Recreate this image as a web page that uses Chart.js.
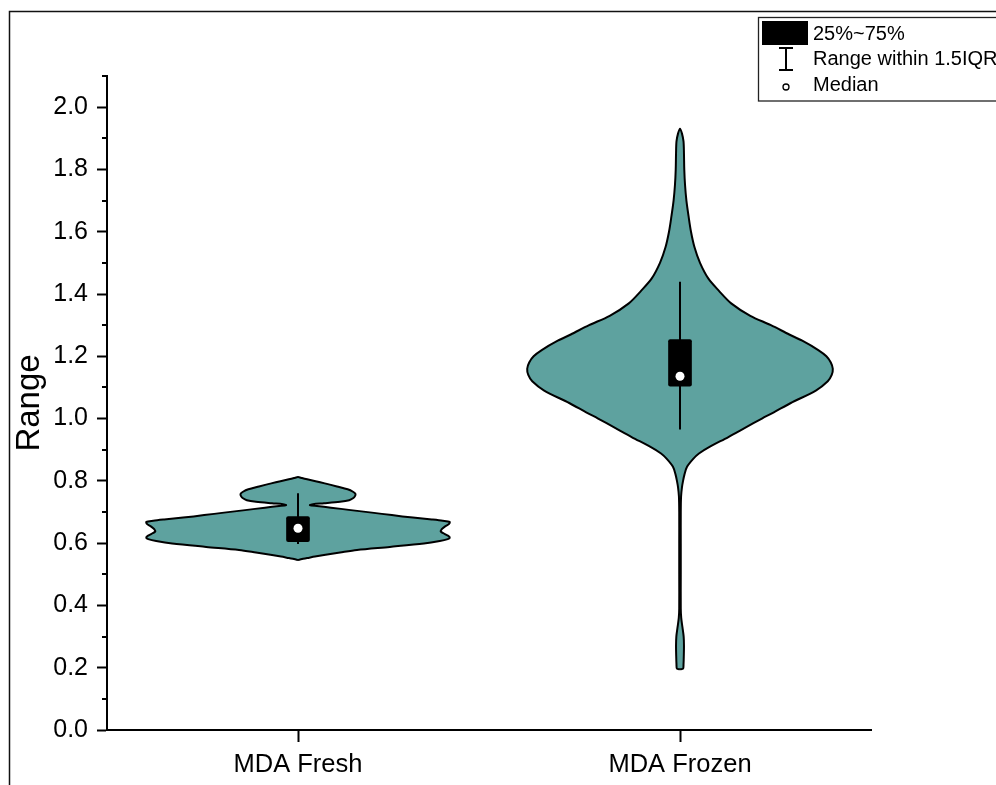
<!DOCTYPE html>
<html>
<head>
<meta charset="utf-8">
<script src="https://cdn.jsdelivr.net/npm/chart.js@4/dist/chart.umd.min.js"></script>
<style>
  html, body { margin: 0; padding: 0; background: #fff; }
  #wrap { width: 996px; height: 785px; position: relative; }
</style>
</head>
<body>
<div id="wrap"><canvas id="chart" width="996" height="785"></canvas></div>
<script>
// ---- data ----
const categories = ['MDA Fresh', 'MDA Frozen'];

// kernel density profile of each group: y levels and relative density (max = 100)
const freshLevels = [0.546, 0.549, 0.552, 0.557, 0.562, 0.570, 0.578, 0.588, 0.599, 0.607,
  0.613, 0.617, 0.622, 0.629, 0.637, 0.645, 0.653, 0.661, 0.668, 0.672,
  0.676, 0.682, 0.690, 0.698, 0.706, 0.714, 0.719, 0.722, 0.725, 0.728,
  0.733, 0.738, 0.744, 0.751, 0.758, 0.765, 0.773, 0.782, 0.792, 0.799,
  0.805, 0.809, 0.812];
const freshDensity = [0, 2.6, 5.9, 11.1, 17.0, 27.5, 38.6, 60.1, 82.4, 92.8,
  98.0, 99.3, 98.7, 96.1, 93.5, 94.1, 96.1, 98.7, 99.3, 94.8,
  87.6, 75.2, 61.4, 48.4, 34.6, 21.6, 12.4, 7.8, 9.8, 17.0,
  27.5, 33.5, 36.0, 37.3, 37.6, 36.0, 32.5, 25.5, 17.5, 11.5,
  6.0, 2.6, 0];

const frozenLevels = [0.195, 0.197, 0.21, 0.24, 0.27, 0.30, 0.33, 0.36, 0.39, 0.50,
  0.60, 0.70, 0.75, 0.78, 0.80, 0.82, 0.845, 0.87, 0.888, 0.91,
  0.94, 0.97, 1.00, 1.02, 1.05, 1.09, 1.12, 1.14, 1.16, 1.18,
  1.20, 1.22, 1.25, 1.27, 1.30, 1.33, 1.37, 1.41, 1.45, 1.50,
  1.55, 1.60, 1.65, 1.70, 1.75, 1.80, 1.85, 1.89, 1.915, 1.931];
const frozenDensity = [0, 2.0, 2.3, 2.5, 2.6, 2.4, 1.6, 0.8, 0.5, 0.5,
  0.5, 0.5, 0.7, 1.3, 2.0, 2.9, 4.6, 8.5, 12.4, 19.6,
  31.4, 42.5, 53.6, 61.4, 72.5, 88.9, 96.7, 99.3, 100, 98.7,
  95.8, 90.5, 80.0, 71.5, 59.5, 46.0, 33.5, 25.5, 18.5, 13.1,
  9.5, 7.2, 5.6, 4.2, 3.3, 2.8, 2.6, 2.3, 1.3, 0];

// box statistics
const q1 = [0.605, 1.104];
const q3 = [0.685, 1.254];
const medians = [0.648, 1.136];
const whiskerLow = [0.597, 0.965];
const whiskerHigh = [0.760, 1.439];

const legendLabels = ['25%~75%', 'Range within 1.5IQR', 'Median'];

// ---- styling ----
const FONT = "'Liberation Sans', Arial, Helvetica, sans-serif";
const VIOLIN_FILL = '#5ea29f';
const VIOLIN_HALF_WIDTH = 0.4;   // x-axis units at density 100

const profiles = [
  { levels: freshLevels, density: freshDensity },
  { levels: frozenLevels, density: frozenDensity }
];

const datasets = [];

// violin outlines: right side going up, left side coming down
profiles.forEach((p, i) => {
  const c = i + 1;
  const right = p.levels.map((v, k) => ({ x: c + p.density[k] / 100 * VIOLIN_HALF_WIDTH, y: v }));
  const left = p.levels.map((v, k) => ({ x: c - p.density[k] / 100 * VIOLIN_HALF_WIDTH, y: v })).reverse();
  datasets.push({
    type: 'scatter',
    label: categories[i],
    data: right.concat(left.slice(1)),
    showLine: true,
    fill: 'shape',
    backgroundColor: VIOLIN_FILL,
    borderColor: '#000',
    borderWidth: 2,
    borderJoinStyle: 'round',
    pointRadius: 0,
    tension: 0.3,
    order: 4
  });
});

// whiskers
categories.forEach((name, i) => {
  datasets.push({
    type: 'scatter',
    label: name + ' whisker',
    data: [{ x: i + 1, y: whiskerLow[i] }, { x: i + 1, y: whiskerHigh[i] }],
    showLine: true,
    fill: false,
    borderColor: '#000',
    borderWidth: 2,
    pointRadius: 0,
    order: 3
  });
});

// interquartile boxes
datasets.push({
  type: 'bar',
  label: 'IQR',
  data: categories.map((_, i) => ({ x: i + 1, y: [q1[i], q3[i]] })),
  backgroundColor: '#000',
  borderWidth: 0,
  borderRadius: 2,
  borderSkipped: false,
  barThickness: 23,
  order: 2
});

// medians
datasets.push({
  type: 'scatter',
  label: 'Median',
  data: categories.map((_, i) => ({ x: i + 1, y: medians[i] })),
  showLine: false,
  pointRadius: 4.5,
  pointBackgroundColor: '#fff',
  pointBorderColor: '#fff',
  pointBorderWidth: 0,
  order: 1
});

// minor y ticks, outer frame and legend box
const decorations = {
  id: 'decorations',
  afterDraw(chart) {
    const ctx = chart.ctx;
    const y = chart.scales.y;
    const area = chart.chartArea;
    ctx.save();

    // minor ticks at odd tenths
    ctx.strokeStyle = '#000';
    ctx.lineWidth = 2;
    ctx.beginPath();
    for (let t = 1; t <= 21; t += 2) {
      const py = Math.round(y.getPixelForValue(t / 10));
      ctx.moveTo(area.left - 5, py);
      ctx.lineTo(area.left, py);
    }
    ctx.stroke();

    // outer frame (top and left edges)
    ctx.strokeStyle = '#111';
    ctx.lineWidth = 1.5;
    ctx.beginPath();
    ctx.moveTo(9.5, 785);
    ctx.lineTo(9.5, 11.5);
    ctx.lineTo(996, 11.5);
    ctx.stroke();

    // legend
    ctx.fillStyle = '#fff';
    ctx.fillRect(758.5, 17.5, 260, 83.5);
    ctx.strokeStyle = '#222';
    ctx.lineWidth = 1.3;
    ctx.strokeRect(758.5, 17.5, 260, 83.5);

    ctx.fillStyle = '#000';
    ctx.fillRect(762, 21, 46, 24);

    ctx.strokeStyle = '#000';
    ctx.lineWidth = 2;
    ctx.beginPath();
    ctx.moveTo(786, 48); ctx.lineTo(786, 70);
    ctx.moveTo(779, 48); ctx.lineTo(793, 48);
    ctx.moveTo(779, 70); ctx.lineTo(793, 70);
    ctx.stroke();

    ctx.beginPath();
    ctx.arc(786, 87, 3, 0, Math.PI * 2);
    ctx.fillStyle = '#fff';
    ctx.fill();
    ctx.lineWidth = 1.3;
    ctx.strokeStyle = '#000';
    ctx.stroke();

    ctx.fillStyle = '#000';
    ctx.font = '20px ' + FONT;
    ctx.textAlign = 'left';
    ctx.textBaseline = 'middle';
    const rowY = [34, 59.5, 85];
    legendLabels.forEach((t, k) => ctx.fillText(t, 813, rowY[k]));

    ctx.restore();
  }
};

new Chart(document.getElementById('chart'), {
  type: 'scatter',
  data: { datasets },
  options: {
    responsive: false,
    devicePixelRatio: 1,
    animation: false,
    events: [],
    layout: { padding: { top: 76, right: 125, bottom: 0, left: 0 } },
    plugins: {
      legend: { display: false },
      tooltip: { enabled: false }
    },
    scales: {
      x: {
        type: 'linear',
        min: 0.5,
        max: 2.5,
        bounds: 'data',
        offset: false,
        afterBuildTicks(scale) { scale.ticks = categories.map((_, i) => ({ value: i + 1 })); },
        afterFit(scale) { scale.height = 55; },
        border: { display: true, color: '#000', width: 2 },
        grid: { drawOnChartArea: false, offset: false, drawTicks: true, tickLength: 12, tickWidth: 2, tickColor: '#000' },
        ticks: {
          autoSkip: false,
          maxRotation: 0,
          padding: 8,
          color: '#000',
          font: { family: FONT, size: 25.5 },
          callback: (v) => categories[Math.round(v) - 1] ?? ''
        }
      },
      y: {
        type: 'linear',
        position: 'left',
        min: 0,
        max: 2.1,
        bounds: 'data',
        afterBuildTicks(scale) {
          // labelled ticks every 0.2; odd tenths are drawn as minor ticks
          scale.ticks = scale.ticks.filter(t => Math.abs(t.value * 5 - Math.round(t.value * 5)) < 1e-6);
        },
        afterFit(scale) { scale.width = 107; },
        border: { display: true, color: '#000', width: 2 },
        grid: { drawOnChartArea: false, drawTicks: true, tickLength: 10, tickWidth: 2, tickColor: '#000' },
        ticks: {
          stepSize: 0.2,
          autoSkip: false,
          padding: 9,
          color: '#000',
          font: { family: FONT, size: 25 },
          callback: (v) => Number(v).toFixed(1)
        },
        title: {
          display: true,
          text: 'Range',
          color: '#000',
          font: { family: FONT, size: 33 },
          padding: { top: 10, bottom: 0 }
        }
      }
    }
  },
  plugins: [decorations]
});
</script>
</body>
</html>
